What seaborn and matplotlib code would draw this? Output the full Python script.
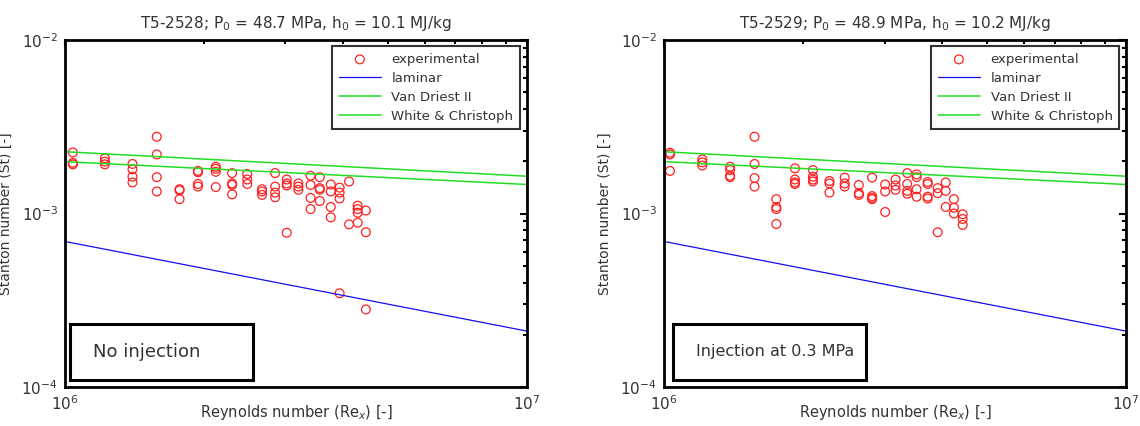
import matplotlib
matplotlib.use("Agg")
import matplotlib.pyplot as plt
from matplotlib.patches import Rectangle
import seaborn as sns
import pandas as pd

# experimental data, shot T5-2528 (no injection)
re_2528 = [1.04e6] * 3 + [1.22e6] * 3 + [1.40e6] * 4 + [1.58e6] * 4 + [1.77e6] * 3 \
    + [1.94e6] * 4 + [2.12e6] * 4 + [2.30e6] * 4 + [2.48e6] * 3 + [2.67e6] * 3 \
    + [2.85e6] * 4 + [3.02e6] * 4 + [3.20e6] * 3 + [3.40e6] * 4 + [3.56e6] * 4 \
    + [3.76e6] * 4 + [3.93e6] * 4 + [4.12e6] * 2 + [4.30e6] * 4 + [4.48e6] * 3
st_2528 = [2.25e-3, 1.96e-3, 1.92e-3,
           2.08e-3, 1.99e-3, 1.92e-3,
           1.93e-3, 1.80e-3, 1.63e-3, 1.51e-3,
           2.77e-3, 2.19e-3, 1.62e-3, 1.34e-3,
           1.38e-3, 1.36e-3, 1.21e-3,
           1.76e-3, 1.73e-3, 1.48e-3, 1.43e-3,
           1.86e-3, 1.81e-3, 1.74e-3, 1.42e-3,
           1.71e-3, 1.49e-3, 1.46e-3, 1.29e-3,
           1.69e-3, 1.57e-3, 1.48e-3,
           1.38e-3, 1.34e-3, 1.28e-3,
           1.71e-3, 1.43e-3, 1.32e-3, 1.24e-3,
           1.57e-3, 1.49e-3, 1.45e-3, 7.75e-4,
           1.49e-3, 1.43e-3, 1.37e-3,
           1.65e-3, 1.46e-3, 1.23e-3, 1.06e-3,
           1.62e-3, 1.40e-3, 1.37e-3, 1.18e-3,
           1.47e-3, 1.34e-3, 1.09e-3, 9.5e-4,
           1.41e-3, 1.32e-3, 1.22e-3, 3.47e-4,
           1.53e-3, 8.66e-4,
           1.11e-3, 1.06e-3, 1.01e-3, 8.85e-4,
           1.04e-3, 7.8e-4, 2.8e-4]

# experimental data, shot T5-2529 (injection at 0.3 MPa)
re_2529 = [1.03e6] * 3 + [1.21e6] * 3 + [1.39e6] * 4 + [1.57e6] * 4 + [1.75e6] * 4 \
    + [1.92e6] * 4 + [2.10e6] * 4 + [2.28e6] * 3 + [2.46e6] * 3 + [2.64e6] * 3 \
    + [2.82e6] * 4 + [3.01e6] * 3 + [3.17e6] * 3 + [3.36e6] * 4 + [3.52e6] * 4 \
    + [3.72e6] * 4 + [3.91e6] * 3 + [4.07e6] * 3 + [4.24e6] * 3 + [4.43e6] * 3
st_2529 = [2.24e-3, 2.19e-3, 1.76e-3,
           2.05e-3, 1.97e-3, 1.89e-3,
           1.86e-3, 1.78e-3, 1.65e-3, 1.62e-3,
           2.77e-3, 1.93e-3, 1.60e-3, 1.43e-3,
           1.21e-3, 1.09e-3, 1.06e-3, 8.7e-4,
           1.82e-3, 1.57e-3, 1.51e-3, 1.48e-3,
           1.78e-3, 1.63e-3, 1.57e-3, 1.53e-3,
           1.54e-3, 1.49e-3, 1.32e-3,
           1.61e-3, 1.49e-3, 1.43e-3,
           1.46e-3, 1.31e-3, 1.28e-3,
           1.61e-3, 1.26e-3, 1.23e-3, 1.21e-3,
           1.47e-3, 1.34e-3, 1.02e-3,
           1.57e-3, 1.45e-3, 1.37e-3,
           1.71e-3, 1.48e-3, 1.35e-3, 1.30e-3,
           1.68e-3, 1.62e-3, 1.38e-3, 1.25e-3,
           1.52e-3, 1.48e-3, 1.25e-3, 1.22e-3,
           1.40e-3, 1.31e-3, 7.8e-4,
           1.51e-3, 1.35e-3, 1.09e-3,
           1.21e-3, 1.08e-3, 1.00e-3,
           9.9e-4, 9.3e-4, 8.6e-4]

# correlations (straight lines in log-log, end points)
re_line = [1e6, 1e7]
st_laminar = [6.9e-4, 2.1e-4]
st_vandriest = [2.27e-3, 1.64e-3]
st_white = [1.99e-3, 1.47e-3]

titles = ["T5-2528; P$_0$ = 48.7 MPa, h$_0$ = 10.1 MJ/kg",
          "T5-2529; P$_0$ = 48.9 MPa, h$_0$ = 10.2 MJ/kg"]
notes = ["No injection", "Injection at 0.3 MPa"]

sns.set_style("white")
plt.rcParams['font.family'] = ['DejaVu Sans']
txt = '#333333'

fig = plt.figure(figsize=(11.4, 4.26), dpi=100)
axes = [fig.add_axes([0.057, 0.0915, 0.4053, 0.8146]),
        fig.add_axes([0.5825, 0.0915, 0.4053, 0.8146])]

exp_data = [pd.DataFrame({'Re': re_2528, 'St': st_2528}),
            pd.DataFrame({'Re': re_2529, 'St': st_2529})]
lines = pd.DataFrame({'Re': re_line, 'laminar': st_laminar,
                      'vd': st_vandriest, 'wc': st_white})

for i, ax in enumerate(axes):
    sns.scatterplot(data=exp_data[i], x='Re', y='St', ax=ax, marker='o',
                    s=40, facecolor='none', edgecolor='#ff2020', linewidth=0.9,
                    label='experimental')
    sns.lineplot(data=lines, x='Re', y='laminar', ax=ax, color='#1010ee', lw=0.9, label='laminar')
    sns.lineplot(data=lines, x='Re', y='vd', ax=ax, color='#22dd22', lw=1.1, label='Van Driest II')
    sns.lineplot(data=lines, x='Re', y='wc', ax=ax, color='#22dd22', lw=1.1, label='White & Christoph')

    ax.set_xscale('log')
    ax.set_yscale('log')
    ax.set_xlim(1e6, 1e7)
    ax.set_ylim(1e-4, 1e-2)
    ax.tick_params(which='both', direction='in', top=True, right=True,
                   colors='black', labelcolor=txt, labelsize=11, width=1.5)
    ax.tick_params(which='major', length=5, pad=5)
    ax.tick_params(which='minor', length=3)
    for sp in ax.spines.values():
        sp.set_linewidth(2)
        sp.set_color('black')

    ax.set_title(titles[i], fontsize=11, color=txt, pad=9)
    ax.set_xlabel('Reynolds number (Re$_x$) [-]', fontsize=10.5, color=txt)
    ax.xaxis.set_label_coords(0.5, -0.045)
    ax.set_ylabel('Stanton number (St) [-]', fontsize=10, color=txt)
    ax.yaxis.set_label_coords(-0.112, 0.5)

    leg = ax.legend(loc='upper right', bbox_to_anchor=(0.985, 0.982), fontsize=9.5,
                    frameon=True, fancybox=False, edgecolor='black', handlelength=3.2,
                    borderpad=0.5, labelspacing=0.45, borderaxespad=0)
    leg.get_frame().set_linewidth(1.5)
    for t in leg.get_texts():
        t.set_color(txt)

    box_w = 0.396 if i == 0 else 0.418
    box_x = 0.011 if i == 0 else 0.0195
    ax.add_patch(Rectangle((box_x, 0.02), box_w, 0.162, transform=ax.transAxes,
                           fill=False, edgecolor='black', linewidth=2.2, zorder=5))
    ax.text(box_x + 0.05, 0.101, notes[i], transform=ax.transAxes,
            fontsize=13 if i == 0 else 11.5,
            color=txt, va='center', ha='left', zorder=6)

fig.savefig('out.png', dpi=100)
